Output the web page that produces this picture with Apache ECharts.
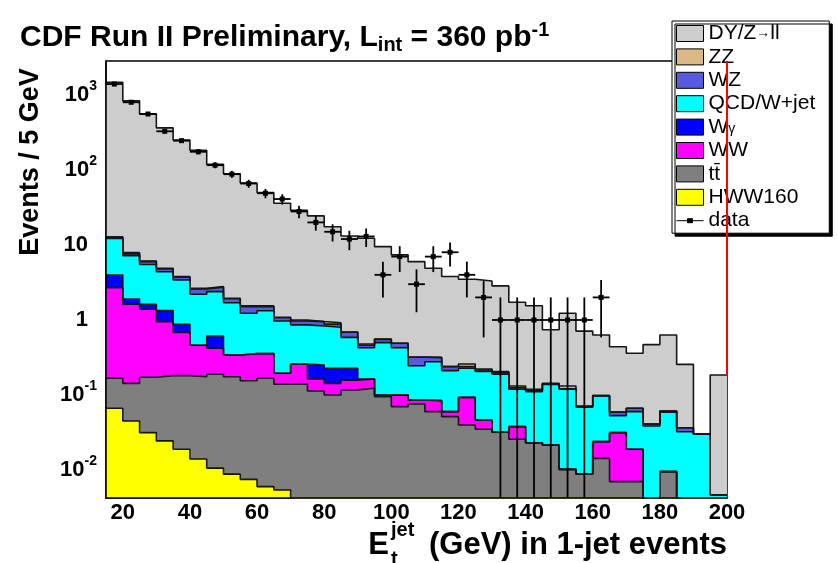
<!DOCTYPE html>
<html>
<head>
<meta charset="utf-8">
<script src="https://cdn.jsdelivr.net/npm/echarts@6.0.0/dist/echarts.min.js"></script>
<style>
  html, body { margin: 0; padding: 0; background: #ffffff; }
  #chart { width: 838px; height: 563px; }
</style>
</head>
<body>
<div id="chart"></div>
<script>
// ---- binning: 5 GeV bins, low edges from 15 to 195 GeV ----
const binLow = [15, 20, 25, 30, 35, 40, 45, 50, 55, 60, 65, 70, 75, 80, 85, 90, 95, 100, 105, 110,
                115, 120, 125, 130, 135, 140, 145, 150, 155, 160, 165, 170, 175, 180, 185, 190, 195];
const binWidth = 5;
const xRange = [15, 200];
const yRange = [0.00423, 2840];
const xTickLabels = [20, 40, 60, 80, 100, 120, 140, 160, 180, 200];
const yTickValues = [0.01, 0.1, 1, 10, 100, 1000];

// ---- expected events per bin, one array per process ----
const ttbar = [0.167, 0.143, 0.172, 0.181, 0.181, 0.175, 0.189, 0.175, 0.155, 0.167, 0.139, 0.14, 0.113,
               0.10, 0.117, 0.123, 0.095, 0.07, 0.076, 0.06, 0.0514, 0.0398, 0.0349, 0.0318, 0.0257,
               0.0231, 0.0215, 0.0102, 0.00885, 0.0143, 0.007, 0.007, 0, 0.0095, 0, 0, 0];
const ww = [2.53, 1.48, 1.22, 0.77, 0.50, 0.285, 0.231, 0.166, 0.201, 0.189, 0.056, 0.119, 0.05,
            0.043, 0.041, 0.04, 0.005, 0.03, 0.0098, 0.024, 0.0086, 0.0532, 0.0115, 0, 0.0121,
            0, 0, 0, 0, 0.0096, 0.0245, 0.0119, 0, 0, 0, 0, 0];
const wgamma = [1.28, 0.285, 0.23, 0.38, 0.195, 0, 0.192, 0, 0, 0, 0, 0, 0.088,
                0.084, 0.069, 0, 0, 0, 0, 0, 0, 0, 0, 0, 0,
                0, 0, 0, 0, 0, 0, 0, 0, 0, 0, 0, 0];
const qcdWjet = [8.22, 5.30, 3.88, 3.07, 2.53, 1.74, 1.78, 1.36, 0.874, 0.974, 0.775, 0.601, 0.579,
                 0.573, 0.36, 0.264, 0.399, 0.327, 0.160, 0.194, 0.151, 0.134, 0.159, 0.158, 0.0812,
                 0.0879, 0.1165, 0.1088, 0.0598, 0.0731, 0.0215, 0.0411, 0.0386, 0.0496, 0.0324, 0.0302, 0.00464];
const wz = [0.4, 0.4, 0.5, 0.4, 0.3, 0.4, 0.35, 0.22, 0.27, 0.17, 0.1, 0.11, 0.12,
            0.08, 0.099, 0.033, 0.053, 0.062, 0.072, 0.037, 0.028, 0.013, 0.01, 0.008, 0.006,
            0.004, 0.003, 0.002, 0.0014, 0.001, 0.0063, 0.0064, 0.0024, 0.0021, 0.0042, 0, 0];
const zz = [0.3, 0.3, 0.1, 0.1, 0.08, 0.04, 0.04, 0.03, 0.04, 0.04, 0.02, 0.03, 0.005,
            0.04, 0.004, 0.019, 0.003, 0.001, 0.002, 0.003, 0.001, 0.019, 0.007, 0.007, 0.007,
            0.004, 0.002, 0.011, 0.0013, 0, 0, 0, 0, 0, 0, 0, 0];
const dyZll = [1467, 827, 554, 360, 247, 180, 116, 87, 65.5, 48.5, 35, 28, 23.5,
               16.6, 12.5, 11.8, 8.95, 6.9, 5.68, 4.58, 3.56, 3.24, 3.08, 2.645, 1.588,
               1.431, 0.597, 1.098, 0.639, 0.532, 0.381, 0.294, 0.429, 0.569, 0.219, 0, 0.18];
// signal, overlaid (not stacked)
const hww160 = [0.0664, 0.045, 0.0315, 0.0244, 0.0189, 0.014, 0.0106, 0.0088, 0.0075, 0.006, 0.0054, 0, 0,
                0, 0, 0, 0, 0, 0, 0, 0, 0, 0, 0, 0,
                0, 0, 0, 0, 0, 0, 0, 0, 0, 0, 0, 0];
// observed events per bin
const dataCounts = [1400, 800, 558, 328, 246, 175, 116, 88, 66, 49, 41, 28, 20,
                    15, 12, 13, 4, 7, 3, 7, 8, 4, 2, 1, 1,
                    1, 1, 1, 1, 2, 0, 0, 0, 0, 0, 0, 0];

const FONT = "'Liberation Sans', Arial, Helvetica, sans-serif";
const OUTLINE = '#161616';

// stack, bottom to top
const stackOrder = [
  { name: 'tt\u0304',    values: ttbar,   color: '#7f7f7f' },
  { name: 'WW',          values: ww,      color: '#ff00ff' },
  { name: 'W\u03b3',     values: wgamma,  color: '#0000ff' },
  { name: 'QCD/W+jet',   values: qcdWjet, color: '#00ffff' },
  { name: 'WZ',          values: wz,      color: '#5a5ade' },
  { name: 'ZZ',          values: zz,      color: '#dcb886' },
  { name: 'DY/Z\u2192ll', values: dyZll,  color: '#cdcdcd' }
];

// cumulative sums for each layer of the stack
let running = binLow.map(() => 0);
const cumulative = stackOrder.map(layer => {
  running = running.map((r, i) => r + layer.values[i]);
  return running.slice();
});

// empty bins sit below the visible range on the log axis and are clipped away
const floorClip = v => (v > 0 ? v : yRange[0] * 1e-3);

// histogram outline points at bin edges, drawn as a step line
function histPoints(vals) {
  const pts = binLow.map((x, i) => [x, floorClip(vals[i])]);
  pts.push([binLow[binLow.length - 1] + binWidth, floorClip(vals[vals.length - 1])]);
  return pts;
}

function histSeries(name, vals, color, extra) {
  return Object.assign({
    type: 'line',
    name: name,
    data: histPoints(vals),
    step: 'end',
    symbol: 'none',
    showSymbol: false,
    clip: true,
    silent: true,
    animation: false,
    lineStyle: { color: OUTLINE, width: 1.6 },
    areaStyle: { color: color, opacity: 1, origin: 'start' },
    itemStyle: { color: color, borderColor: '#000', borderWidth: 1 },
    emphasis: { disabled: true }
  }, extra || {});
}

const series = [];
// draw from the full stack down so every layer shows on top of the one above it
for (let k = stackOrder.length - 1; k >= 0; k--) {
  const extra = {};
  if (k === stackOrder.length - 1) {
    const total = cumulative[k];
    extra.markLine = {
      silent: true,
      symbol: ['none', 'none'],
      label: { show: false },
      lineStyle: { color: '#ff0000', width: 2, type: 'solid' },
      data: [[{ coord: [xRange[1], yRange[1]] }, { coord: [xRange[1], total[total.length - 1]] }]]
    };
  }
  series.push(histSeries(stackOrder[k].name, cumulative[k], stackOrder[k].color, extra));
}
series.push(histSeries('HWW160', hww160, '#ffff00'));

// data points with Poisson errors and bin-width horizontal bars
const dataPoints = [];
dataCounts.forEach((n, i) => {
  if (n > 0) dataPoints.push([binLow[i] + binWidth / 2, n, Math.sqrt(n)]);
});

series.push({
  type: 'custom',
  name: 'data',
  data: dataPoints,
  encode: { x: 0, y: 1 },
  clip: true,
  silent: true,
  animation: false,
  itemStyle: { color: '#000' },
  z: 10,
  renderItem: function (params, api) {
    const xc = api.value(0), n = api.value(1), err = api.value(2);
    const lo = Math.max(n - err, yRange[0] * 0.5);
    const c = api.coord([xc, n]);
    const pHi = api.coord([xc, n + err]);
    const pLo = api.coord([xc, lo]);
    const pL = api.coord([xc - binWidth / 2, n]);
    const pR = api.coord([xc + binWidth / 2, n]);
    const st = { stroke: '#000', lineWidth: 1.8 };
    return {
      type: 'group',
      children: [
        { type: 'line', shape: { x1: c[0], y1: pHi[1], x2: c[0], y2: pLo[1] }, style: st },
        { type: 'line', shape: { x1: pL[0], y1: c[1], x2: pR[0], y2: c[1] }, style: st },
        { type: 'rect', shape: { x: c[0] - 2.5, y: c[1] - 2.5, width: 5, height: 5 }, style: { fill: '#000' } }
      ]
    };
  }
});

// legend labels with small symbols
const legendRich = {
  t: { fontFamily: FONT, fontSize: 21, color: '#000' },
  ar: { fontFamily: FONT, fontSize: 14, color: '#000' },
  g: { fontFamily: FONT, fontSize: 14, color: '#000', padding: [4, 0, 0, 0] }
};
function legendLabel(name) {
  if (name === 'DY/Z\u2192ll') return '{t|DY/Z}{ar|\u2192}{t|ll}';
  if (name === 'W\u03b3') return '{t|W}{g|\u03b3}';
  return '{t|' + name + '}';
}

const chart = echarts.init(document.getElementById('chart'), null, { renderer: 'canvas' });

// text width helper for the composed axis titles
const measureCtx = document.createElement('canvas').getContext('2d');
function textWidth(text, font) { measureCtx.font = font; return measureCtx.measureText(text).width; }

const xTitleFont = 'bold 31px ' + FONT;
const xTitleSmall = 'bold 20px ' + FONT;
const xRest = ' (GeV) in 1-jet events';
const xRight = 727;
const wRest = textWidth(xRest, xTitleFont);
const wJet = textWidth('jet', xTitleSmall);
const wE = textWidth('E', xTitleFont);
const xRestStart = xRight - wRest;
const xJetStart = xRestStart - wJet - 6;
const xEStart = xJetStart - wE - 2;
const xTitleY = 545;

chart.setOption({
  animation: false,
  backgroundColor: '#ffffff',
  grid: {
    left: 106, top: 61, width: 621, height: 437,
    show: true, borderColor: '#000', borderWidth: 1.5, backgroundColor: 'transparent'
  },
  xAxis: {
    type: 'value',
    min: xRange[0], max: xRange[1],
    z: 5,
    splitLine: { show: false },
    axisTick: { show: false },
    axisLine: { show: true, lineStyle: { color: '#000', width: 1.5 } },
    axisLabel: {
      customValues: xTickLabels,
      margin: 4,
      fontFamily: FONT, fontWeight: 'bold', fontSize: 22, color: '#000'
    }
  },
  yAxis: {
    type: 'log',
    logBase: 10,
    min: yRange[0], max: yRange[1],
    z: 5,
    splitLine: { show: false },
    axisTick: { show: false },
    axisLine: { show: true, lineStyle: { color: '#000', width: 1.5 } },
    axisLabel: {
      customValues: yTickValues,
      margin: 9,
      formatter: function (v) {
        const k = Math.round(Math.log10(v));
        if (Math.abs(Math.log10(v) - k) > 1e-6) return '';
        if (k === 0) return '{b|1}{p| }';
        if (k === 1) return '{b|10}{p| }';
        return '{b|10}{s|' + k + '}';
      },
      rich: {
        b: { fontFamily: FONT, fontWeight: 'bold', fontSize: 22, color: '#000' },
        s: { fontFamily: FONT, fontWeight: 'bold', fontSize: 14, color: '#000', padding: [0, 0, 18, 0] },
        p: { fontFamily: FONT, fontSize: 14, width: 9 }
      }
    }
  },
  legend: {
    orient: 'vertical',
    left: 672, top: 21,
    itemWidth: 27, itemHeight: 16, itemGap: 2.4,
    padding: [2, 14, 2, 4],
    backgroundColor: '#ffffff',
    borderColor: '#000', borderWidth: 1,
    shadowColor: '#000', shadowBlur: 0, shadowOffsetX: 3, shadowOffsetY: 3,
    selectedMode: false,
    icon: 'rect',
    itemStyle: { borderColor: '#000', borderWidth: 1 },
    textStyle: { fontFamily: FONT, fontSize: 21, color: '#000', rich: legendRich },
    formatter: legendLabel,
    data: [
      'DY/Z\u2192ll', 'ZZ', 'WZ', 'QCD/W+jet', 'W\u03b3', 'WW', 'tt\u0304', 'HWW160',
      { name: 'data', icon: 'path://M0,0M0,8L27,8M11,6L16,6L16,10L11,10ZM27,16',
        itemStyle: { color: '#000', borderColor: '#000', borderWidth: 1 } }
    ]
  },
  graphic: [
    {
      type: 'text', left: 20, top: 20, z: 20,
      style: {
        text: '{m|CDF Run II Preliminary, L}{s|int}{m| = 360 pb}{u|-1}',
        rich: {
          m: { fontFamily: FONT, fontWeight: 'bold', fontSize: 30, fill: '#000' },
          s: { fontFamily: FONT, fontWeight: 'bold', fontSize: 20, fill: '#000', padding: [14, 0, 0, 0] },
          u: { fontFamily: FONT, fontWeight: 'bold', fontSize: 20, fill: '#000', padding: [0, 0, 16, 0] }
        }
      }
    },
    {
      type: 'text', x: 31, y: 162, rotation: Math.PI / 2, z: 20,
      style: {
        text: 'Events / 5 GeV', font: 'bold 27px ' + FONT, fill: '#000',
        align: 'center', verticalAlign: 'middle'
      }
    },
    {
      type: 'text', x: xEStart, y: xTitleY, z: 20,
      style: { text: 'E', font: xTitleFont, fill: '#000', align: 'left', verticalAlign: 'middle' }
    },
    {
      type: 'text', x: xJetStart, y: xTitleY - 15, z: 20,
      style: { text: 'jet', font: xTitleSmall, fill: '#000', align: 'left', verticalAlign: 'middle' }
    },
    {
      type: 'text', x: xJetStart, y: xTitleY + 14, z: 20,
      style: { text: 't', font: xTitleSmall, fill: '#000', align: 'left', verticalAlign: 'middle' }
    },
    {
      type: 'text', x: xRestStart, y: xTitleY, z: 20,
      style: { text: xRest, font: xTitleFont, fill: '#000', align: 'left', verticalAlign: 'middle' }
    }
  ],
  series: series
});
</script>
</body>
</html>
